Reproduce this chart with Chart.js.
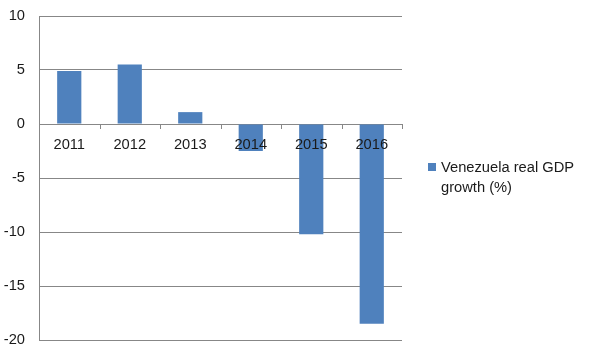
<!DOCTYPE html>
<html>
<head>
<meta charset="utf-8">
<script src="https://cdn.jsdelivr.net/npm/chart.js@4/dist/chart.umd.min.js"></script>
<style>
html,body{margin:0;padding:0;background:#fff;}
#wrap{width:592px;height:355px;position:relative;}
</style>
</head>
<body>
<div id="wrap"><canvas id="c" width="592" height="355"></canvas></div>
<script>
const categories = ["2011", "2012", "2013", "2014", "2015", "2016"];
const gdpGrowth = [4.9, 5.5, 1.1, -2.5, -10.2, -18.5];
const seriesName = "Venezuela real GDP growth (%)";
const legendLines = ["Venezuela real GDP", "growth (%)"];
const yMin = -20, yMax = 10, yStep = 5;

const FAMILY = "'Liberation Sans', Arial, sans-serif";
const FONT = "14.7px " + FAMILY;
const BAR = "#4F81BD";
const GRID = "#878787";

const overlay = {
  id: "overlay",
  afterDatasetsDraw(chart) {
    const ctx = chart.ctx;
    const xs = chart.scales.x, ys = chart.scales.y;
    const y0 = ys.getPixelForValue(0);
    const area = chart.chartArea;
    ctx.save();
    ctx.strokeStyle = GRID;
    ctx.lineWidth = 1;
    const n = categories.length;
    const w = (area.right - area.left) / n;
    for (let i = 1; i <= n; i++) {
      const x = Math.round(xs.getPixelForValue(i - 1) + w / 2) + 0.5;
      ctx.beginPath();
      ctx.moveTo(x, y0);
      ctx.lineTo(x, y0 + 5);
      ctx.stroke();
    }
    ctx.fillStyle = "#1a1a1a";
    ctx.font = FONT;
    ctx.textAlign = "center";
    ctx.textBaseline = "middle";
    categories.forEach((c, i) => {
      ctx.fillText(c, xs.getPixelForValue(i), y0 + 21);
    });
    ctx.fillStyle = BAR;
    ctx.fillRect(428, 163, 8, 8);
    ctx.fillStyle = "#1a1a1a";
    ctx.textAlign = "left";
    ctx.fillText(legendLines[0], 441, 168);
    ctx.fillText(legendLines[1], 441, 188);
    ctx.restore();
  }
};

new Chart(document.getElementById("c"), {
  type: "bar",
  data: {
    labels: categories,
    datasets: [{
      label: seriesName,
      data: gdpGrowth,
      backgroundColor: BAR,
      borderWidth: 0,
      barPercentage: 0.4,
      categoryPercentage: 1.0
    }]
  },
  options: {
    responsive: false,
    animation: false,
    layout: { padding: { top: 16, right: 190, bottom: 15, left: 0 } },
    plugins: { legend: { display: false }, tooltip: { enabled: false } },
    scales: {
      x: { display: false },
      y: {
        min: yMin, max: yMax,
        afterFit(scale) {
          scale.width = 39;
          scale.paddingTop = 0;
          scale.paddingBottom = 0;
        },
        ticks: {
          stepSize: yStep,
          padding: 14,
          color: "#1a1a1a",
          font: { family: FAMILY, size: 14.7 }
        },
        grid: { color: GRID, drawTicks: false, lineWidth: 1 },
        border: { color: GRID, width: 1 }
      }
    }
  },
  plugins: [overlay]
});
</script>
</body>
</html>
